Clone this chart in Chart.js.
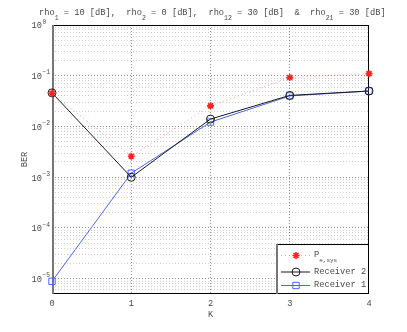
<!DOCTYPE html>
<html>
<head>
<meta charset="utf-8">
<script src="https://cdn.jsdelivr.net/npm/chart.js@4.4.0/dist/chart.umd.min.js"></script>
<style>
  body { margin: 0; background: #fff; }
  canvas { display: block; }
</style>
</head>
<body>
<canvas id="chart" width="407" height="332"></canvas>
<script>
const kValues = [0, 1, 2, 3, 4];
const peSys = [0.045, 0.0026, 0.0255, 0.092, 0.11];
const receiver2 = [0.046, 0.00100, 0.0140, 0.041, 0.050];
const receiver1 = [0.0000089, 0.00120, 0.0122, 0.040, 0.050];

const yDecades = [-5, -4, -3, -2, -1, 0];
const yMinorSteps = [2, 3, 4, 5, 6, 7, 8, 9];
const yMin = 5e-6;
const yMax = 1;

// title pieces: [text, isSubscript]
const titleParts = [
    ['rho', false], ['1', true], [' = 10 [dB],  ', false],
    ['rho', false], ['2', true], [' = 0 [dB],  ', false],
    ['rho', false], ['12', true], [' = 30 [dB]  &  ', false],
    ['rho', false], ['21', true], [' = 30 [dB]', false],
];
const legendEntries = [
    {label: 'P', sub: 'e,sys', ds: 0},
    {label: 'Receiver 2', sub: '', ds: 1},
    {label: 'Receiver 1', sub: '', ds: 2},
];

const mono = '"Liberation Mono", "DejaVu Sans Mono", monospace';
const textColor = '#4a4a4a';

// grid ticks for the log axis (decades and 2..9 in between)
let yTickValues = [];
yDecades.forEach((e) => {
    yTickValues.push(Math.pow(10, e));
});
[-6, -5, -4, -3, -2, -1].forEach((e) => {
    yMinorSteps.forEach((m) => {
        let v = m * Math.pow(10, e);
        if (v >= yMin && v < yMax) yTickValues.push(v);
    });
});
yTickValues.sort((a, b) => a - b);

function isDecade(v) {
    let l = Math.log10(v);
    return Math.abs(l - Math.round(l)) < 1e-9;
}

const ctx = document.getElementById('chart');

const matlabPlugin = {
    id: 'matlabLook',
    beforeDatasetsDraw(chart) {
        const c = chart.ctx;
        const a = chart.chartArea;
        c.save();
        c.strokeStyle = '#000';
        c.lineWidth = 1;
        c.strokeRect(a.left + 0.5, a.top + 0.5, a.right - a.left - 1, a.bottom - a.top - 1);
        c.strokeStyle = '#777';
        c.lineWidth = 2;
        c.beginPath();
        c.moveTo(a.left + 1, a.top);
        c.lineTo(a.left + 1, a.bottom);
        c.stroke();
        c.restore();
    },
    afterDraw(chart) {
        const c = chart.ctx;
        const a = chart.chartArea;
        const ys = chart.scales.y;
        c.save();
        c.fillStyle = textColor;

        // title
        let x = 39;
        c.textAlign = 'left';
        c.textBaseline = 'alphabetic';
        titleParts.forEach((p) => {
            c.font = (p[1] ? '6.5px ' : '8.7px ') + mono;
            c.fillText(p[0], x, p[1] ? 19.5 : 15);
            x += c.measureText(p[0]).width;
        });

        // y tick labels 10^n
        yDecades.forEach((e) => {
            const py = ys.getPixelForValue(Math.pow(10, e));
            c.font = '8.7px ' + mono;
            c.textAlign = 'right';
            c.textBaseline = 'middle';
            c.fillText('10', 42, py + 1);
            c.font = '6.3px ' + mono;
            c.textAlign = 'left';
            c.fillText(e === 0 ? '0' : '\u2212' + Math.abs(e), 42.5, py - 3);
        });

        // legend box in the lower right corner
        const bx = 276, by = 244, bw = a.right - 276, bh = a.bottom - 244;
        c.fillStyle = '#fff';
        c.fillRect(bx, by, bw, bh);
        c.strokeStyle = '#000';
        c.lineWidth = 1;
        c.strokeRect(bx + 0.5, by + 0.5, bw - 1, bh - 1);
        c.strokeStyle = '#777';
        c.lineWidth = 2;
        c.beginPath();
        c.moveTo(bx + 1, by);
        c.lineTo(bx + 1, by + bh);
        c.stroke();

        const rowY = [255, 271.5, 285];
        legendEntries.forEach((en, i) => {
            const ds = chart.data.datasets[en.ds];
            const y = rowY[i];
            c.save();
            c.strokeStyle = ds.borderColor;
            c.lineWidth = ds.borderWidth;
            c.setLineDash(ds.borderDash || []);
            c.beginPath();
            c.moveTo(281, y + 0.5);
            c.lineTo(310, y + 0.5);
            c.stroke();
            c.restore();
            c.save();
            c.strokeStyle = ds.pointBorderColor;
            c.fillStyle = ds.pointBackgroundColor;
            c.lineWidth = ds.pointBorderWidth;
            Chart.helpers.drawPoint(c, {
                pointStyle: ds.pointStyle,
                radius: ds.pointRadius,
                borderWidth: ds.pointBorderWidth,
                rotation: 0,
            }, 296, y + 0.5);
            c.restore();
            c.fillStyle = textColor;
            c.textAlign = 'left';
            c.textBaseline = 'middle';
            c.font = '8.7px ' + mono;
            c.fillText(en.label, 314, y);
            if (en.sub) {
                const w = c.measureText(en.label).width;
                c.font = '6px ' + mono;
                c.fillText(en.sub, 314 + w, y + 5);
            }
        });
        c.restore();
    }
};

let mainChart = new Chart(ctx, {
    type: 'line',
    data: {
        labels: kValues,
        datasets: [
            {
                label: 'P_e,sys',
                data: kValues.map((k, i) => ({x: k, y: peSys[i]})),
                borderColor: 'rgba(255, 110, 110, 0.7)',
                borderWidth: 1,
                borderDash: [1, 3],
                pointStyle: 'star',
                pointRadius: 3.5,
                pointBorderWidth: 1.6,
                pointBorderColor: '#ff2020',
                pointBackgroundColor: '#ff2020',
                clip: false,
            },
            {
                label: 'Receiver 2',
                data: kValues.map((k, i) => ({x: k, y: receiver2[i]})),
                borderColor: '#1a1a1a',
                borderWidth: 1,
                pointStyle: 'circle',
                pointRadius: 4,
                pointBorderWidth: 1,
                pointBorderColor: '#1a1a1a',
                pointBackgroundColor: 'rgba(0,0,0,0)',
                clip: false,
            },
            {
                label: 'Receiver 1',
                data: kValues.map((k, i) => ({x: k, y: receiver1[i]})),
                borderColor: '#4a66ff',
                borderWidth: 1,
                pointStyle: 'rect',
                pointRadius: 4.5,
                pointBorderWidth: 1,
                pointBorderColor: '#4a66ff',
                pointBackgroundColor: 'rgba(0,0,0,0)',
                clip: false,
            },
        ],
    },
    options: {
        responsive: false,
        animation: false,
        devicePixelRatio: 1,
        layout: {padding: {top: 25, right: 38, left: 0, bottom: 0}},
        plugins: {
            legend: {display: false},
            tooltip: {enabled: false},
        },
        elements: {line: {tension: 0}},
        scales: {
            x: {
                type: 'linear',
                min: 0,
                max: 4,
                ticks: {
                    stepSize: 1,
                    padding: 4,
                    color: textColor,
                    font: {family: mono, size: 8.7},
                },
                grid: {
                    drawTicks: false,
                    lineWidth: 1,
                    color: (c) => (c.tick && (c.tick.value === 0 || c.tick.value === 4)) ? 'rgba(0,0,0,0)' : 'rgba(0,0,0,0.45)',
                },
                border: {display: false, dash: [1, 2]},
                title: {
                    display: true,
                    text: 'K',
                    color: textColor,
                    font: {family: mono, size: 8.7},
                    padding: {top: 0, bottom: 12},
                },
                afterFit: (scale) => { scale.height = 38; },
            },
            y: {
                type: 'logarithmic',
                min: yMin,
                max: yMax,
                afterBuildTicks: (scale) => {
                    scale.ticks = yTickValues.map((v) => ({value: v}));
                },
                ticks: {display: false, autoSkip: false},
                grid: {
                    drawTicks: false,
                    lineWidth: 1,
                    color: (c) => (c.tick && isDecade(c.tick.value)) ? 'rgba(0,0,0,0.45)' : 'rgba(0,0,0,0.2)',
                },
                border: {display: false, dash: [1, 2]},
                title: {
                    display: true,
                    text: 'BER',
                    color: textColor,
                    font: {family: mono, size: 8.7},
                    padding: {top: 19, bottom: 0},
                },
                afterFit: (scale) => { scale.width = 52; },
            },
        },
    },
    plugins: [matlabPlugin],
});
</script>
</body>
</html>
